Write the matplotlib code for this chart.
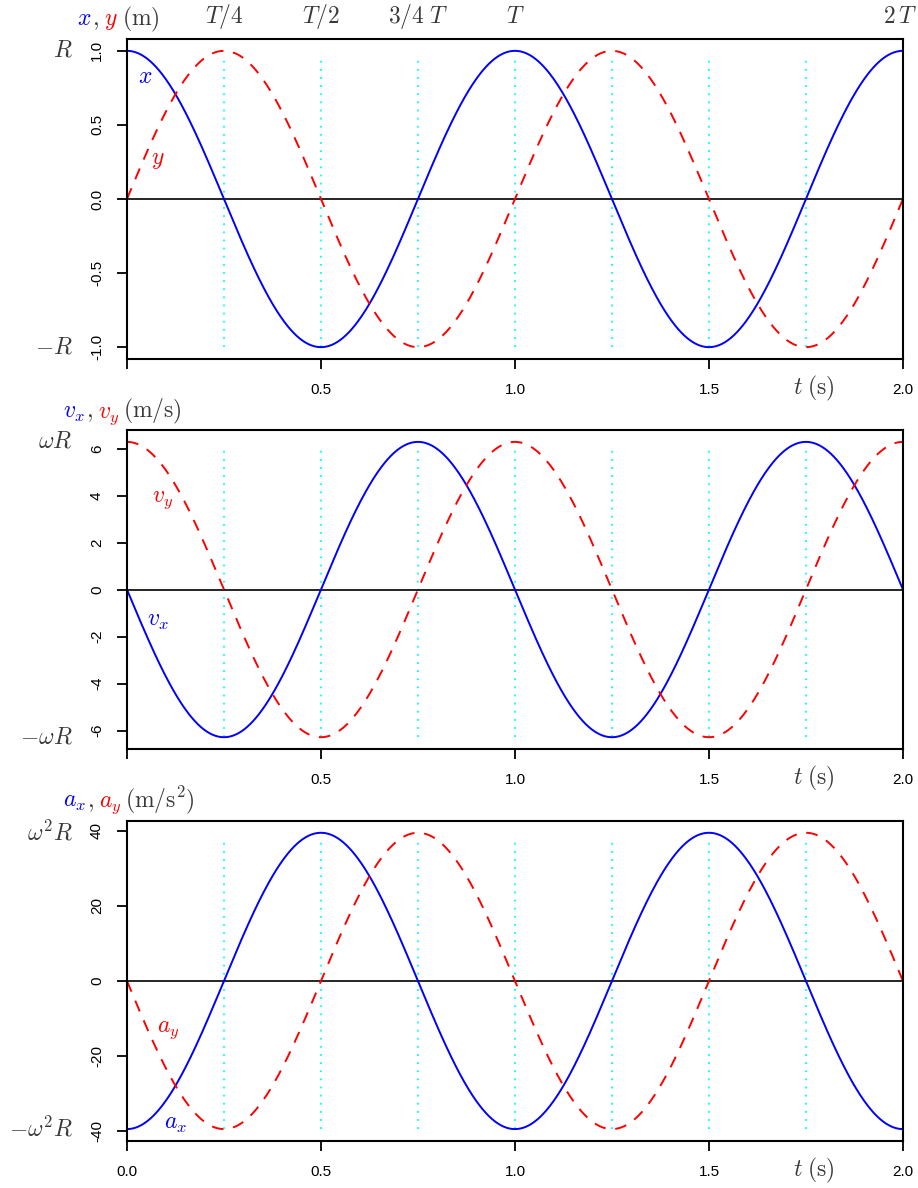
import numpy as np
import matplotlib
matplotlib.use("Agg")
import matplotlib.pyplot as plt

plt.rcParams["font.family"] = ["Liberation Sans", "DejaVu Sans"]
plt.rcParams["mathtext.fontset"] = "cm"

# circular motion: radius R (m), period T (s), shown over two periods
R = 1.0
T = 1.0
t_end = 2.0
omega = 2 * np.pi / T
t = np.linspace(0, t_end, 801)

x = R * np.cos(omega * t)
y = R * np.sin(omega * t)
vx = -omega * R * np.sin(omega * t)
vy = omega * R * np.cos(omega * t)
ax_ = -omega**2 * R * np.cos(omega * t)
ay_ = -omega**2 * R * np.sin(omega * t)

quarter_marks = [0.25, 0.5, 0.75, 1.0, 1.25, 1.5, 1.75]
period_marks = [0.25, 0.5, 0.75, 1.0, 2.0]
period_labels = [r"$T/4$", r"$T/2$", r"$3/4\;T$", r"$T$", r"$2\,T$"]

t_ticks = [0, 0.5, 1.0, 1.5, 2.0]
t_labels_upper = ["", "0.5", "1.0", "1.5", "2.0"]
t_labels_lower = ["0.0", "0.5", "1.0", "1.5", "2.0"]

pos_ticks = [-1.0, -0.5, 0.0, 0.5, 1.0]
pos_labels = ["-1.0", "-0.5", "0.0", "0.5", "1.0"]
vel_ticks = [-6, -4, -2, 0, 2, 4, 6]
vel_labels = ["-6", "-4", "-2", "0", "2", "4", "6"]
acc_ticks = [-40, -20, 0, 20, 40]
acc_labels = ["-40", "-20", "0", "20", "40"]

GRAY = "#3a3a3a"
BLUE = "#0000ff"
RED = "#ff0000"
MATH = 17

fig = plt.figure(figsize=(9.18, 11.88), dpi=100)
renderer = fig.canvas.get_renderer()


def chained_label(ax, x0, y0, pieces):
    # colored pieces of one label, laid out left to right on one baseline
    dx = 0.0
    for s, c, gap in pieces:
        txt = ax.annotate(s, xy=(0, 1), xycoords="axes fraction",
                          xytext=(x0 + dx, y0), textcoords="offset points",
                          color=c, fontsize=MATH, ha="left", va="baseline",
                          annotation_clip=False)
        dx += txt.get_window_extent(renderer).width * 72 / fig.dpi + gap


def panel(rect, ca, cb, amp, ticks, tlabels, xlabels, amp_labels, names, name_pos, title):
    ax = fig.add_axes(rect)
    ax.set_xlim(0, t_end)
    ax.set_ylim(-1.08 * amp, 1.08 * amp)
    ax.vlines(quarter_marks, -amp, 0.95 * amp, colors="cyan",
              linestyles=(0, (1, 3.5)), lw=1.3)
    ax.axhline(0, color="black", lw=1.2)
    ax.plot(t, ca, color=BLUE, lw=1.4)
    ax.plot(t, cb, color=RED, lw=1.4, ls=(0, (6, 5)))

    ax.set_xticks(t_ticks)
    ax.set_xticklabels(xlabels)
    ax.set_yticks(ticks)
    ax.set_yticklabels(tlabels)
    for lab in ax.get_yticklabels():
        lab.set_rotation(90)
        lab.set_va("center")
    ax.tick_params(axis="both", direction="out", length=7.5, width=1.3,
                   labelsize=11)
    ax.tick_params(axis="x", pad=9.5)
    ax.tick_params(axis="y", pad=9)
    for sp in ax.spines.values():
        sp.set_linewidth(1.5)

    # amplitude names left of the tick labels
    for val, lab in zip([amp, -amp], amp_labels):
        ax.annotate(lab, xy=(0, val), xycoords=("axes fraction", "data"),
                    xytext=(-39, 0), textcoords="offset points",
                    ha="right", va="center", fontsize=MATH, color=GRAY,
                    annotation_clip=False)

    # t (s) in the tick label row
    ax.annotate(r"$t\;(\mathrm{s})$", xy=(1.77, 0),
                xycoords=("data", "axes fraction"), xytext=(0, -21),
                textcoords="offset points", ha="center", va="center",
                fontsize=MATH, color=GRAY, annotation_clip=False)

    # curve names
    for (nm, c), (px, py) in zip(names, name_pos):
        ax.text(px, py, nm, color=c, fontsize=MATH, ha="center", va="center")

    chained_label(ax, *title)
    return ax


ax1 = panel((0.1383, 0.6978, 0.8453, 0.2694), x, y, R,
            pos_ticks, pos_labels, t_labels_upper,
            [r"$R$", r"$-R$"],
            [(r"$x$", BLUE), (r"$y$", RED)],
            [(0.046, 0.82), (0.08, 0.26)],
            (-36, 10, [(r"$x$", BLUE, 0.5), (r"$,$", GRAY, 3.5),
                       (r"$y$", RED, 3), (r"$(\mathrm{m})$", GRAY, 0)]))

ax2 = panel((0.1383, 0.3695, 0.8453, 0.2685), vx, vy, omega * R,
            vel_ticks, vel_labels, t_labels_upper,
            [r"$\omega R$", r"$-\omega R$"],
            [(r"$v_x$", BLUE), (r"$v_y$", RED)],
            [(0.08, -1.35), (0.093, 3.8)],
            (-46, 9, [(r"$v_x$", BLUE, 0.5), (r"$,$", GRAY, 3.5),
                      (r"$v_y$", RED, 3), (r"$(\mathrm{m/s})$", GRAY, 0)]))

ax3 = panel((0.1383, 0.0396, 0.8453, 0.2694), ax_, ay_, omega**2 * R,
            acc_ticks, acc_labels, t_labels_lower,
            [r"$\omega^2 R$", r"$-\omega^2 R$"],
            [(r"$a_x$", BLUE), (r"$a_y$", RED)],
            [(0.126, -38.0), (0.106, -13.2)],
            (-46, 10, [(r"$a_x$", BLUE, 0.5), (r"$,$", GRAY, 3.5),
                       (r"$a_y$", RED, 3), (r"$(\mathrm{m/s^2})$", GRAY, 0)]))

# period marks above the top panel; the last one is pulled in to stay on the page
for pm, pl in zip(period_marks, period_labels):
    if pm == t_end:
        ha, dx = "right", 10
    else:
        ha, dx = "center", 0
    ax1.annotate(pl, xy=(pm, 1), xycoords=("data", "axes fraction"),
                 xytext=(dx, 16), textcoords="offset points",
                 ha=ha, va="center", fontsize=MATH, color=GRAY,
                 annotation_clip=False)

fig.savefig("out.png", dpi=100)
